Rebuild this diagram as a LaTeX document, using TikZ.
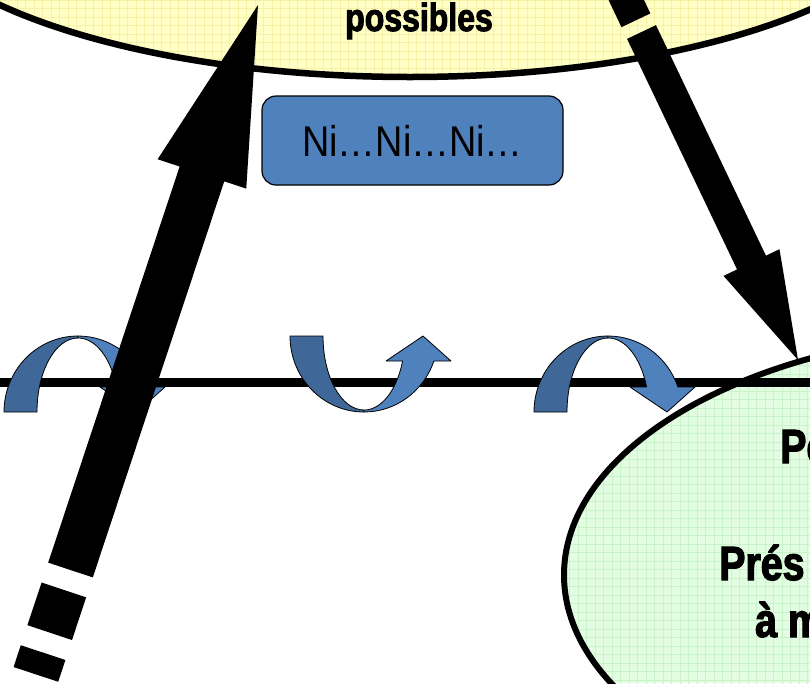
\documentclass[tikz,border=0pt]{standalone}
\usepackage{fontspec}
\usetikzlibrary{calc}
\newfontfamily\impactfont[FakeStretch=0.82,FakeBold=2.5]{Liberation Sans}
\newfontfamily\narrowfont[FakeStretch=0.88]{Liberation Sans}
\definecolor{yfill}{HTML}{FFFFC6}
\definecolor{ygrid}{HTML}{F5F1A6}
\definecolor{gfill}{HTML}{E3FDE3}
\definecolor{ggrid}{HTML}{C9F3C9}
\definecolor{boxblue}{HTML}{4F81BD}
\definecolor{darkribbon}{HTML}{3F6797}
\tikzset{
  ribbonline/.style={draw=black, line width=0.8pt, line join=round},
  ribbon/.pic={
    \filldraw[ribbonline, fill=darkribbon]
      (-74pt,0pt) arc[start angle=180,end angle=90,x radius=74pt,y radius=76pt]
      -- (0pt,74pt) arc[start angle=90,end angle=180,x radius=41pt,y radius=74pt] -- cycle;
    \filldraw[ribbonline, fill=boxblue]
      (0pt,76pt) arc[start angle=90,end angle=19.2,x radius=74pt,y radius=76pt]
      -- (87pt,25pt) -- (59pt,0pt) -- (22pt,25pt) -- (38.6pt,25pt)
      arc[start angle=19.7,end angle=90,x radius=41pt,y radius=74pt] -- cycle;
  },
  bigtext/.style={font=\impactfont\bfseries\fontsize{48}{57}\selectfont, inner sep=0pt, anchor=base west},
}
% #1 tail, #2 tip, #3 shaft half width, #4 head half width, #5 head length
\newcommand\blockarr[5]{%
  \coordinate (ba-m) at ($(#2)!#5!(#1)$);
  \fill ($(#1)!#3!90:(#2)$) -- ($(ba-m)!#3!90:(#2)$) -- ($(ba-m)!#4!90:(#2)$) -- (#2)
    -- ($(ba-m)!#4!-90:(#2)$) -- ($(ba-m)!#3!-90:(#2)$) -- ($(#1)!#3!-90:(#2)$) -- cycle;}
\newcommand\dashpiece[3]{%
  \fill ($(#1)!#3!90:(#2)$) -- ($(#2)!#3!-90:(#1)$) -- ($(#2)!#3!90:(#1)$) -- ($(#1)!#3!-90:(#2)$) -- cycle;}
\begin{document}
\begin{tikzpicture}[x=1pt,y=-1pt]
\useasboundingbox (0,0) rectangle (810,683);
\fill[white] (0,0) rectangle (810,683);
% green ellipse
\begin{scope}
  \clip (1020,575) ellipse [x radius=456pt, y radius=244pt];
  \fill[gfill] (500,300) rectangle (810,683);
  \draw[ggrid, line width=0.6pt, step=8.5pt] (500,300) grid (810,690);
\end{scope}
\draw[line width=6pt] (1020,575) ellipse [x radius=456pt, y radius=244pt];
% yellow ellipse
\begin{scope}
  \clip (410,-110) ellipse [x radius=520pt, y radius=187pt];
  \fill[yfill] (0,-10) rectangle (810,100);
  \draw[ygrid, line width=0.6pt, step=8.5pt] (0,-10) grid (810,100);
\end{scope}
\draw[line width=6.5pt] (410,-110) ellipse [x radius=520pt, y radius=187pt];
\node[font=\impactfont\bfseries\fontsize{39}{44}\selectfont, inner sep=0pt, anchor=base] (poss) at (419,31) {possibles};
% green texts (cut by the frame, as in the reference)
\node[bigtext] (g1) at (780,463) {Pe};
\node[bigtext] (g2) at (719,580) {Prés};
\node[bigtext] (g3) at (755,637) {à m};
% horizontal line
\coordinate (hl) at (0,382);
\coordinate (hr) at (810,382);
\draw[line width=9pt] (hl) -- (hr);
% Ni box
\node[draw=black, line width=1.2pt, fill=boxblue, rounded corners=14pt,
      minimum width=301pt, minimum height=89pt, inner sep=0pt,
      font=\narrowfont\fontsize{43}{48}\selectfont] (ni) at (412.5,140.5) {Ni…Ni…Ni…};
% curved ribbon arrows
\pic (ra) at (78,412) {ribbon};
\pic[yscale=-1] (rb) at (364,336) {ribbon};
\pic (rc) at (608,412) {ribbon};
% big black arrows
\coordinate (t1) at (70.5,570);
\coordinate (h1) at (258,5);
\blockarr{t1}{h1}{23.5pt}{46.7pt}{178pt}
\coordinate (d1a) at (63.9,589.9);
\coordinate (d1b) at (49.7,632.6);
\coordinate (d2a) at (43.1,652.6);
\coordinate (d2b) at (35.9,674.4);
\dashpiece{d1a}{d1b}{23.5pt}
\dashpiece{d2a}{d2b}{23.5pt}
\coordinate (t2) at (641.5,32);
\coordinate (h2) at (798,360);
\blockarr{t2}{h2}{16pt}{31pt}{108pt}
\coordinate (d3a) at (635.9,20.3);
\coordinate (d3b) at (614.4,-24.9);
\dashpiece{d3a}{d3b}{16pt}
\end{tikzpicture}
\end{document}
